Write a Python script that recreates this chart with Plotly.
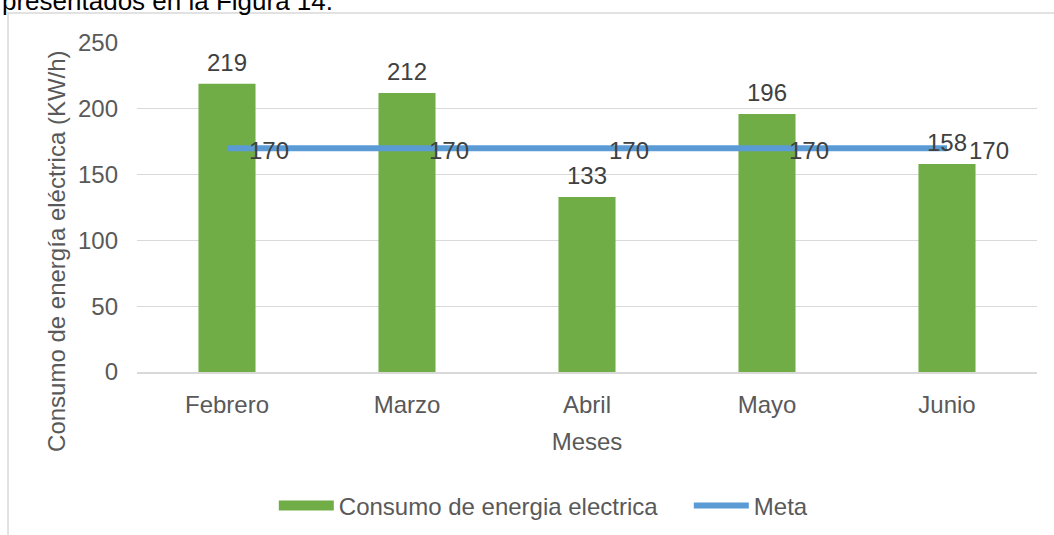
import plotly.graph_objects as go

meses = ["Febrero", "Marzo", "Abril", "Mayo", "Junio"]
consumo = [219, 212, 133, 196, 158]
meta = [170, 170, 170, 170, 170]
y_ticks = [0, 50, 100, 150, 200, 250]

FONT = "Liberation Sans, Arial, sans-serif"
FS = 24
TXT = "#595959"
LBL = "#404040"
GREEN = "#70AD47"
BLUE = "#5B9BD5"

fig = go.Figure()
fig.add_trace(go.Bar(
    x=meses, y=consumo, name="Consumo de energia electrica",
    marker=dict(color=GREEN, line=dict(width=0)),
    width=0.317, showlegend=False, legendgroup="c",
))
# legend key drawn as a wide green block, like the reference
fig.add_trace(go.Scatter(
    x=[None], y=[None], name="Consumo de energia electrica", mode="lines",
    line=dict(color=GREEN, width=13), legendgroup="c",
))
fig.add_trace(go.Scatter(
    x=meses, y=meta, name="Meta", mode="lines",
    line=dict(color=BLUE, width=6),
))

ann = []
for m, v in zip(meses, consumo):
    ann.append(dict(x=m, y=v, text=str(v), showarrow=False, xanchor="center",
                    yanchor="bottom", yshift=6, font=dict(size=FS, color=LBL, family=FONT)))
for m, v in zip(meses, meta):
    ann.append(dict(x=m, y=v, text=str(v), showarrow=False, xanchor="left",
                    yanchor="middle", xshift=20, yshift=-2, font=dict(size=FS, color=LBL, family=FONT)))
# y axis title (sits lower than the plot centre in the reference)
ann.append(dict(xref="paper", yref="paper", x=-0.0889, y=0.368, xanchor="center", yanchor="middle",
                text="Consumo de energía eléctrica (KW/h)", textangle=-90, showarrow=False,
                font=dict(size=FS, color=TXT, family=FONT)))
# truncated document text at the very top
ann.append(dict(xref="paper", yref="paper", x=-0.152, y=1.128, xanchor="left", yanchor="middle",
                text="presentados en la Figura 14.", showarrow=False,
                font=dict(size=26, color="#000000", family=FONT)))

fig.update_layout(
    width=1054, height=535,
    margin=dict(l=137, r=17, t=43, b=163, autoexpand=False),
    paper_bgcolor="white", plot_bgcolor="white",
    font=dict(family=FONT, size=FS, color=TXT),
    bargap=0.683,
    showlegend=True,
    legend=dict(orientation="h", x=0.152, xanchor="left", y=-0.407, yanchor="middle",
                font=dict(size=FS, color=TXT), itemwidth=55, traceorder="normal",
                entrywidth=345, entrywidthmode="pixels"),
    annotations=ann,
    shapes=[dict(type="rect", xref="paper", yref="paper", x0=-0.1433, x1=1.2, y0=-0.7, y1=1.0912,
                 line=dict(color="#d9d9d9", width=1.5), fillcolor="rgba(0,0,0,0)", layer="below")],
)
fig.update_xaxes(
    showgrid=False, showline=True, linecolor="#d9d9d9", linewidth=2,
    tickfont=dict(size=FS, color=TXT), ticks="", ticklabelstandoff=10,
    title=dict(text="Meses", font=dict(size=FS, color=TXT), standoff=16),
)
fig.update_yaxes(
    range=[0, 250], tickvals=y_ticks, showgrid=True, gridcolor="#d9d9d9", gridwidth=1,
    zeroline=False, showline=False, ticks="", ticklabelstandoff=18,
    tickfont=dict(size=FS, color=TXT),
)
fig.write_html("out.html")
